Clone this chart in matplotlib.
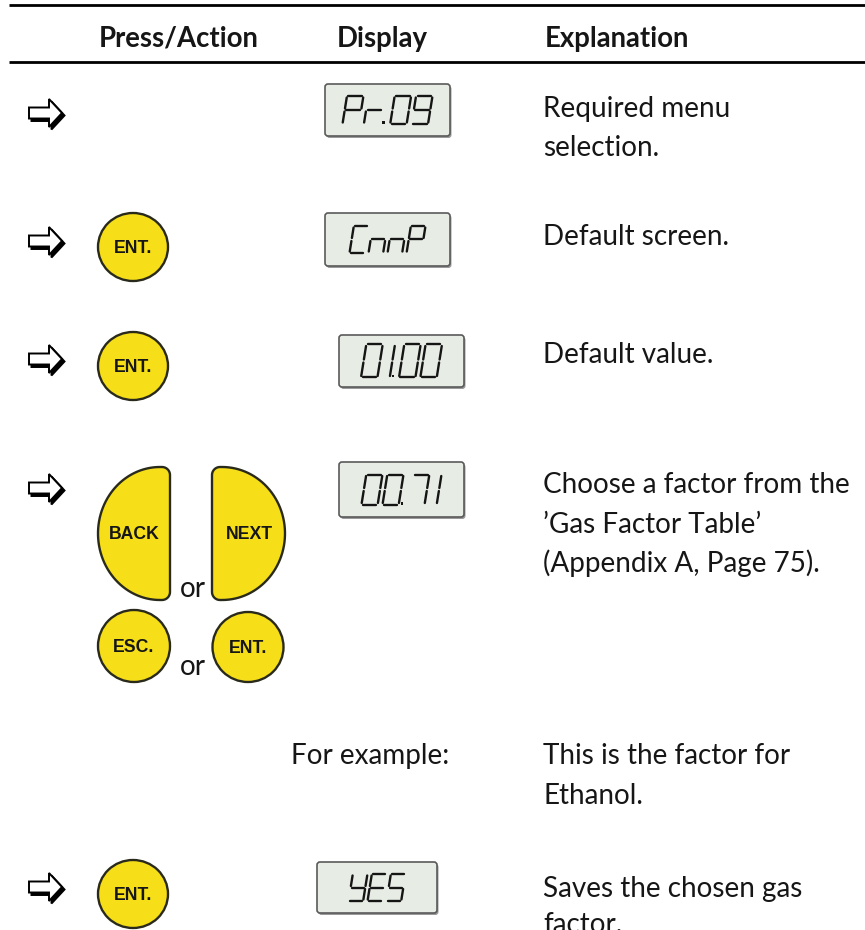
import matplotlib
matplotlib.use("Agg")
import matplotlib.pyplot as plt
from matplotlib.patches import Polygon, Ellipse, FancyBboxPatch
import numpy as np

# ---------------- content ----------------
headers = ["Press/Action", "Display", "Explanation"]
row_has_arrow = [True, True, True, True, False, True]
row_buttons = [[], ["ENT."], ["ENT."], ["BACK", "NEXT", "ESC.", "ENT."], [], ["ENT."]]
row_displays = ["Pr.09", "CnnP", "01.00", "00.71", None, "YES"]
row_explanations = [
    ["Required menu", "selection."],
    ["Default screen."],
    ["Default value."],
    ["Choose a factor from the", "\u2019Gas Factor Table\u2019", "(Appendix A, Page 75)."],
    ["This is the factor for", "Ethanol."],
    ["Saves the chosen gas", "factor."],
]
example_label = "For example:"
or_word = "or"

# ---------------- layout (pixels, y downward) ----------------
W, H = 865, 930
header_x = [99, 337, 545]
header_baseline = 47
rule_y = [5, 62]
arrow_y = [113, 241, 359, 488, None, 887]
lcd_boxes = [(325, 84, 450, 136), (325, 213, 450, 266), (339, 335, 464, 387),
             (339, 462, 464, 517), None, (317, 862, 437, 913)]
lcd_char_h = [28, 27, 33, 30, None, 27]
lcd_span = [90, 76, 81, 80, None, 57]
expl_x = 543
expl_baselines = [[117, 156], [245], [363], [493, 533, 572], [764, 804], [897, 933]]
single_btn_center = {1: (133, 247), 2: (133, 366), 5: (133, 894)}
example_pos = (291, 764)

YEL = "#f6df18"
EDGE = "#2a2a1c"
TXT = "#161616"

fig = plt.figure(figsize=(W / 100, H / 100), dpi=100)
ax = fig.add_axes([0, 0, 1, 1])
ax.set_xlim(0, W)
ax.set_ylim(H, 0)
ax.axis("off")
renderer = fig.canvas.get_renderer()


def fit_size(text, target_px, **kw):
    t = ax.text(0, 0, text, fontsize=20, **kw)
    w = t.get_window_extent(renderer).width
    t.remove()
    return 20 * target_px / w


body_font = dict(family=["Lato", "DejaVu Sans"])
head_font = dict(family=["Lato", "DejaVu Sans"], fontweight="bold")
btn_font = dict(family=["Liberation Sans", "DejaVu Sans"], fontweight="bold")

body_fs = fit_size("Choose a factor from the", 307, **body_font)
head_fs = 0.5 * (fit_size("Explanation", 147, **head_font) + fit_size("Press/Action", 157, **head_font))
btn_fs = fit_size("ENT.", 38, **btn_font)

# ---------------- header ----------------
for y in rule_y:
    ax.plot([9, W], [y, y], color="black", lw=2.0, solid_capstyle="butt")
for x, h in zip(header_x, headers):
    ax.text(x, header_baseline, h, fontsize=head_fs, va="baseline", ha="left",
            color=TXT, **head_font)


# ---------------- helpers ----------------
def draw_arrow(cy, x0=29):
    pts = [(x0, cy - 5.5), (x0 + 20, cy - 5.5), (x0 + 20, cy - 14), (x0 + 33, cy),
           (x0 + 20, cy + 14), (x0 + 20, cy + 5.5), (x0, cy + 5.5)]
    shadow = [(x + 2.5, y + 2.5) for x, y in pts]
    ax.add_patch(Polygon(shadow, closed=True, fc="black", ec="black", lw=1.4, joinstyle="miter"))
    ax.add_patch(Polygon(pts, closed=True, fc="white", ec="black", lw=1.4, joinstyle="miter"))


def circle_button(cx, cy, label, rx=35, ry=34):
    ax.add_patch(Ellipse((cx, cy), 2 * rx, 2 * ry, fc=YEL, ec=EDGE, lw=1.7))
    ax.text(cx, cy + 1, label, ha="center", va="center", fontsize=btn_fs, color=TXT, **btn_font)


def half_button(xl, xr, yt, yb, label, flat_right=True):
    cy = (yt + yb) / 2
    ry = (yb - yt) / 2
    r = 8
    rx = (xr - xl) - 10
    pts = []
    if flat_right:
        cx = xr - 10
        for t in np.linspace(np.pi / 2, 3 * np.pi / 2, 60):
            pts.append((cx + rx * np.cos(t), cy - ry * np.sin(t)))
        for t in np.linspace(-np.pi / 2, 0, 10):
            pts.append((xr - r + r * np.cos(t), yb - r - r * np.sin(t)))
        for t in np.linspace(0, np.pi / 2, 10):
            pts.append((xr - r + r * np.cos(t), yt + r - r * np.sin(t)))
        lx = (xl + xr) / 2
    else:
        cx = xl + 10
        for t in np.linspace(np.pi / 2, -np.pi / 2, 60):
            pts.append((cx + rx * np.cos(t), cy - ry * np.sin(t)))
        for t in np.linspace(-np.pi / 2, -np.pi, 10):
            pts.append((xl + r + r * np.cos(t), yb - r - r * np.sin(t)))
        for t in np.linspace(np.pi, np.pi / 2, 10):
            pts.append((xl + r + r * np.cos(t), yt + r - r * np.sin(t)))
        lx = (xl + xr) / 2 + 1
    ax.add_patch(Polygon(pts, closed=True, fc=YEL, ec=EDGE, lw=1.7))
    ax.text(lx, cy + 1, label, ha="center", va="center", fontsize=btn_fs, color=TXT, **btn_font)


SEG = {"0": "abcdef", "1": "bc", "7": "abc", "9": "abcdfg", "P": "abefg", "r": "eg",
       "C": "adef", "n": "ceg", "Y": "bcdfg", "E": "adefg", "S": "acdfg"}


def draw_lcd(text, box, h, span):
    x0, y0, x1, y1 = box
    ax.add_patch(FancyBboxPatch((x0 + 1.5, y0 + 2), x1 - x0, y1 - y0,
                                boxstyle="round,pad=0,rounding_size=3", fc="#9a9a9a", ec="none"))
    ax.add_patch(FancyBboxPatch((x0, y0), x1 - x0, y1 - y0,
                                boxstyle="round,pad=0,rounding_size=3", fc="#e7ede4",
                                ec="#5a5a5a", lw=1.2))
    cells = []
    for c in text:
        if c == "." and cells:
            cells[-1][1] = True
        else:
            cells.append([c, False])
    s = 0.16
    k = 1.3
    units = 0.0
    for i, (ch, dot) in enumerate(cells):
        last = i == len(cells) - 1
        cw = 0.45 if ch == "1" else 1.0
        units += cw if last else (0.55 * k if ch == "1" else k)
        if dot and not last:
            units += 0.3
    w = (span - s * h) / units
    p = k * w
    cx = (x0 + x1) / 2 - span / 2
    yb = (y0 + y1) / 2 + h / 2
    gap = 1.5
    for ch, dot in cells:
        ww = 0.45 * w if ch == "1" else w
        ox = -0.55 * w if ch == "1" else 0.0
        segs = {"a": ((0, h), (w, h)), "b": ((w, h), (w, h / 2)), "c": ((w, h / 2), (w, 0)),
                "d": ((0, 0), (w, 0)), "e": ((0, 0), (0, h / 2)), "f": ((0, h / 2), (0, h)),
                "g": ((0, h / 2), (w, h / 2))}
        for sname in SEG.get(ch, ""):
            (u0, v0), (u1, v1) = segs[sname]
            du, dv = u1 - u0, v1 - v0
            L = np.hypot(du, dv)
            u0g, v0g = u0 + du / L * gap + ox, v0 + dv / L * gap
            u1g, v1g = u1 - du / L * gap + ox, v1 - dv / L * gap
            ax.plot([cx + u0g + s * v0g, cx + u1g + s * v1g], [yb - v0g, yb - v1g],
                    color="#151515", lw=1.7, solid_capstyle="round")
        adv = 0.55 * p if ch == "1" else p
        if dot:
            dx = cx + ww + 0.2 * w
            ax.add_patch(FancyBboxPatch((dx - 1.4, yb - 2.8), 2.8, 2.8,
                                        boxstyle="square,pad=0", fc="#151515", ec="none"))
            adv += 0.3 * w
        cx += adv


# ---------------- rows ----------------
for i in range(len(row_displays)):
    if row_has_arrow[i]:
        draw_arrow(arrow_y[i])
    btns = row_buttons[i]
    if len(btns) == 1:
        bx, by = single_btn_center[i]
        circle_button(bx, by, btns[0])
    elif len(btns) == 4:
        half_button(98, 170, 467, 600, btns[0], flat_right=True)
        half_button(212, 285, 467, 600, btns[1], flat_right=False)
        circle_button(134, 646, btns[2], rx=36, ry=36)
        circle_button(248, 647, btns[3], rx=35.5, ry=35)
        ax.text(180, 597, or_word, fontsize=body_fs, va="baseline", ha="left", color=TXT, **body_font)
        ax.text(180, 675, or_word, fontsize=body_fs, va="baseline", ha="left", color=TXT, **body_font)
    if row_displays[i] is not None:
        draw_lcd(row_displays[i], lcd_boxes[i], lcd_char_h[i], lcd_span[i])
    for line, yb in zip(row_explanations[i], expl_baselines[i]):
        ax.text(expl_x, yb, line, fontsize=body_fs, va="baseline", ha="left", color=TXT, **body_font)

ax.text(example_pos[0], example_pos[1], example_label, fontsize=body_fs, va="baseline",
        ha="left", color=TXT, **body_font)

fig.savefig("out.png", dpi=100)
